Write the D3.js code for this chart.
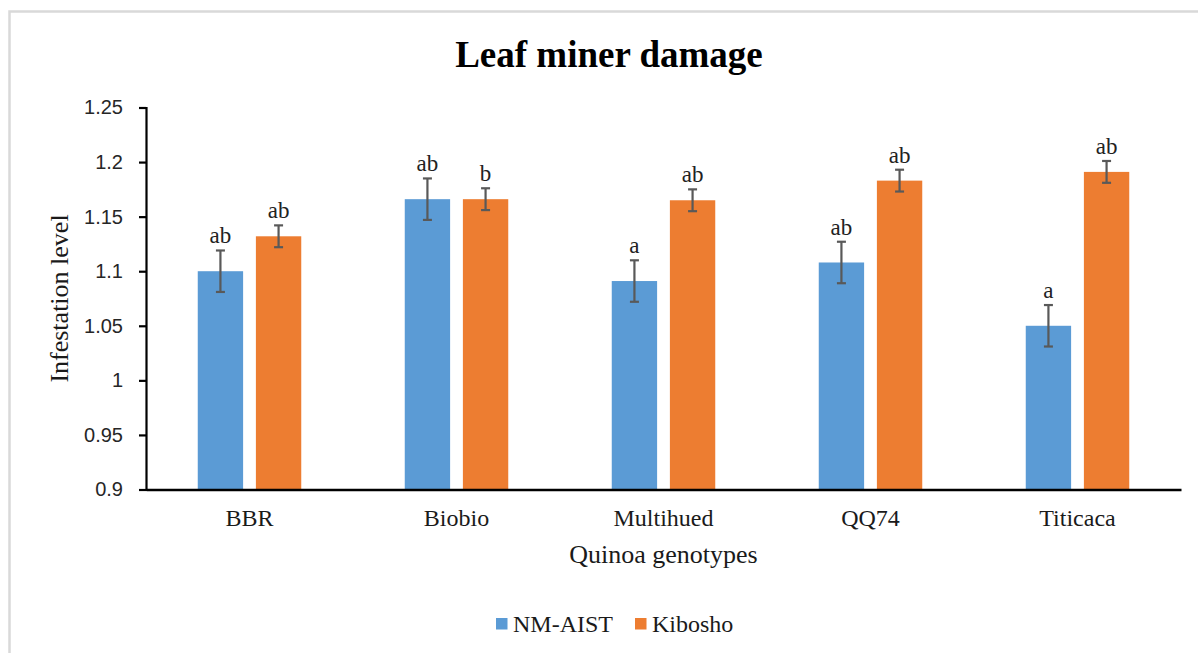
<!DOCTYPE html>
<meta charset="utf-8">
<style>
body { margin: 0; background: #fff; }
.serif { font-family: "Liberation Serif", "Times New Roman", serif; fill: #000; }
.yaxis text { font-family: "Liberation Sans", Arial, sans-serif; font-size: 20px; fill: #262626; }
</style>
<svg width="1198" height="653"></svg>
<script src="https://cdn.jsdelivr.net/npm/d3@7/dist/d3.min.js"></script>
<script>

var genotypes = ["BBR", "Biobio", "Multihued", "QQ74", "Titicaca"];
var seriesNames = ["NM-AIST", "Kibosho"];
var nmaist = [1.100, 1.166, 1.091, 1.108, 1.050];
var nmaistErr = [0.019, 0.019, 0.019, 0.019, 0.019];
var nmaistLetters = ["ab", "ab", "a", "ab", "a"];
var kibosho = [1.132, 1.166, 1.165, 1.183, 1.191];
var kiboshoErr = [0.010, 0.010, 0.010, 0.010, 0.010];
var kiboshoLetters = ["ab", "b", "ab", "ab", "ab"];
var yTicks = [0.9, 0.95, 1, 1.05, 1.1, 1.15, 1.2, 1.25];
var colors = ["#5b9bd5", "#ed7d31"];

var svg = d3.select("svg");

// chart area frame
svg.append("rect")
    .attr("x", 9.5).attr("y", 11.5)
    .attr("width", 1230).attr("height", 700)
    .attr("fill", "none")
    .attr("stroke", "#d9d9d9")
    .attr("stroke-width", 2.5);

var plotLeft = 146, plotRight = 1181, plotTop = 107.5, plotBottom = 489.5;

var x0 = d3.scaleBand()
    .domain(genotypes)
    .range([plotLeft, plotRight])
    .paddingInner(0.5)
    .paddingOuter(0.25);

var x1 = d3.scaleBand()
    .domain(seriesNames)
    .range([0, x0.bandwidth()])
    .paddingInner(0.22);

var y = d3.scaleLinear()
    .domain([0.9, 1.25])
    .range([plotBottom, plotTop]);

var rows = genotypes.map(function(g, i) {
  return [
    {g: g, s: seriesNames[0], v: nmaist[i], e: nmaistErr[i], l: nmaistLetters[i], c: colors[0]},
    {g: g, s: seriesNames[1], v: kibosho[i], e: kiboshoErr[i], l: kiboshoLetters[i], c: colors[1]}
  ];
});

var groups = svg.append("g")
  .selectAll("g")
    .data(rows)
  .enter().append("g")
    .attr("transform", function(d) { return "translate(" + x0(d[0].g) + ",0)"; });

var bar = groups.selectAll("g")
    .data(function(d) { return d; })
  .enter().append("g");

bar.append("rect")
    .attr("x", function(d) { return x1(d.s); })
    .attr("y", function(d) { return y(d.v); })
    .attr("width", x1.bandwidth())
    .attr("height", function(d) { return y(0.9) - y(d.v); })
    .attr("fill", function(d) { return d.c; });

// error bars
var cx = function(d) { return x1(d.s) + x1.bandwidth() / 2; };
bar.append("line")
    .attr("x1", cx).attr("x2", cx)
    .attr("y1", function(d) { return y(d.v + d.e); })
    .attr("y2", function(d) { return y(d.v - d.e); })
    .attr("stroke", "#595959").attr("stroke-width", 2.2);
bar.selectAll(".cap")
    .data(function(d) { return [d.v + d.e, d.v - d.e].map(function(v) { return {d: d, v: v}; }); })
  .enter().append("line")
    .attr("class", "cap")
    .attr("x1", function(o) { return cx(o.d) - 4.5; })
    .attr("x2", function(o) { return cx(o.d) + 4.5; })
    .attr("y1", function(o) { return y(o.v); })
    .attr("y2", function(o) { return y(o.v); })
    .attr("stroke", "#595959").attr("stroke-width", 2.2);

bar.append("text")
    .attr("class", "serif")
    .attr("x", cx)
    .attr("y", function(d) { return y(d.v + d.e) - 7; })
    .attr("text-anchor", "middle")
    .style("font-size", "23px")
    .style("fill", "#222")
    .text(function(d) { return d.l; });

// axes
var yAxis = svg.append("g")
    .attr("class", "yaxis")
    .attr("transform", "translate(" + plotLeft + ",0)")
    .call(d3.axisLeft(y).tickValues(yTicks).tickSize(7).tickPadding(16)
      .tickFormat(function(d) { return String(+d.toFixed(2)); }));
yAxis.selectAll("line, path").attr("stroke", "#000").attr("stroke-width", 2.2);

var xAxis = svg.append("g")
    .attr("transform", "translate(0," + plotBottom + ")")
    .call(d3.axisBottom(x0).tickSize(0).tickPadding(0).tickSizeOuter(0));
xAxis.select("path").attr("stroke", "#000").attr("stroke-width", 2.5);
xAxis.selectAll(".tick text")
    .attr("y", 36)
    .attr("dy", null)
    .style("font-family", "'Liberation Serif', 'Times New Roman', serif")
    .style("font-size", "24px")
    .style("fill", "#1a1a1a");

// titles
svg.append("text")
    .attr("class", "serif")
    .attr("x", 609).attr("y", 67)
    .attr("text-anchor", "middle")
    .style("font-size", "37px")
    .style("font-weight", "bold")
    .text("Leaf miner damage");

svg.append("text")
    .attr("class", "serif")
    .attr("x", (plotLeft + plotRight) / 2).attr("y", 563)
    .attr("text-anchor", "middle")
    .style("font-size", "26px")
    .style("fill", "#1a1a1a")
    .text("Quinoa genotypes");

svg.append("text")
    .attr("class", "serif")
    .attr("transform", "translate(68," + (plotTop + plotBottom) / 2 + ") rotate(-90)")
    .attr("text-anchor", "middle")
    .style("font-size", "26px")
    .style("fill", "#1a1a1a")
    .text("Infestation level");

// legend
var legendX = [496, 635];
var legend = svg.append("g")
  .selectAll("g")
    .data(seriesNames)
  .enter().append("g")
    .attr("transform", function(d, i) { return "translate(" + legendX[i] + ",618)"; });
legend.append("rect")
    .attr("width", 11.5).attr("height", 11.5)
    .attr("fill", function(d, i) { return colors[i]; });
legend.append("text")
    .attr("class", "serif")
    .attr("x", 17).attr("y", 14)
    .style("font-size", "24px")
    .style("fill", "#1a1a1a")
    .text(function(d) { return d; });

</script>
